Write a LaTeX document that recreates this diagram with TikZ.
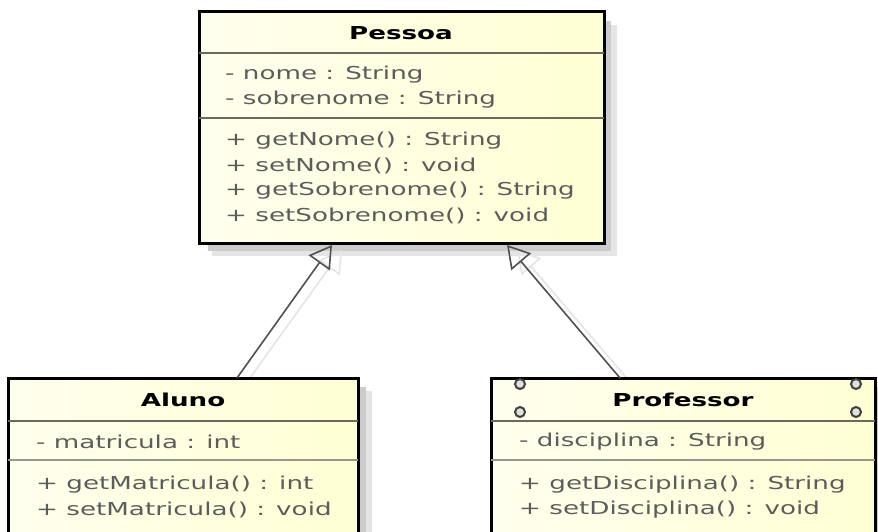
\documentclass[tikz,border=0pt]{standalone}
\usepackage{fontspec}
\setmainfont{DejaVu Sans}[FakeStretch=1.47]
\usetikzlibrary{arrows.meta,calc}
\definecolor{fillA}{RGB}{255,255,238}
\definecolor{fillB}{RGB}{255,255,212}
\definecolor{sepgray}{RGB}{105,105,92}
\definecolor{txtgray}{RGB}{92,92,92}
\definecolor{lnkgray}{RGB}{80,80,80}
\tikzset{
  classbox/.style={draw=black, line width=3pt, left color=fillA, right color=fillB,
    inner sep=0pt, outer sep=0pt, anchor=north west},
  shadowA/.style={fill=black!10, draw=none},
  shadowB/.style={fill=black!20, draw=none},
  sepline/.style={draw=sepgray, line width=2.5pt},
  ctitle/.style={font=\fontsize{17.8}{22}\selectfont\bfseries, text=black, inner sep=0pt},
  member/.style={font=\fontsize{17.8}{22}\selectfont, text=txtgray, anchor=west, inner sep=0pt},
  genlink/.style={draw=lnkgray, line width=1.6pt, -{Triangle[open, length=22pt, width=26pt, line width=1.6pt]}},
  genshadow/.style={draw=black!10, line width=1.6pt, -{Triangle[open, length=22pt, width=26pt, line width=1.6pt]}},
  corner/.style={circle, draw=black!75, fill=black!12, line width=2pt, minimum size=10pt, inner sep=0pt}
}
\begin{document}
\begin{tikzpicture}[x=1pt,y=-1pt]
\useasboundingbox (0,0) rectangle (878,532);
\fill[white] (0,0) rectangle (878,532);

% shadows
\fill[shadowA] (212,25) rectangle (617,256);
\fill[shadowB] (208,21) rectangle (611,251);
\fill[shadowA] (21,391) rectangle (372,545);
\fill[shadowB] (17,387) rectangle (366,545);
\fill[shadowA] (504,391) rectangle (889,545);
\fill[shadowB] (500,387) rectangle (883,545);

% connector shadows
\coordinate (aTs) at (247,382);
\coordinate (pLs) at (342,250);
\coordinate (prTs) at (630,382);
\coordinate (pRs) at (517,250);
\draw[genshadow] (aTs) -- (pLs);
\draw[genshadow] (prTs) -- (pRs);

% Pessoa
\node[classbox, minimum width=405pt, minimum height=231pt] (pessoa) at (199,12) {};
\draw[sepline] (199,53) -- (604,53);
\draw[sepline] (199,118) -- (604,118);
\node[ctitle] (pessoaT) at (401,33) {Pessoa};
\node[member] (p1) at (225,75) {- nome : String};
\node[member] (p2) at (225,100) {- sobrenome : String};
\node[member] (p3) at (225,141) {+ getNome() : String};
\node[member] (p4) at (225,166) {+ setNome() : void};
\node[member] (p5) at (225,191) {+ getSobrenome() : String};
\node[member] (p6) at (225,216) {+ setSobrenome() : void};

% Aluno
\node[classbox, minimum width=350pt, minimum height=170pt] (aluno) at (8,378) {};
\draw[sepline] (8,421) -- (358,421);
\draw[sepline, draw=sepgray!70] (8,460) -- (358,460);
\node[ctitle] (alunoT) at (183,400) {Aluno};
\node[member] (a1) at (36,442) {- matricula : int};
\node[member] (a2) at (36,485) {+ getMatricula() : int};
\node[member] (a3) at (36,510) {+ setMatricula() : void};

% Professor
\node[classbox, minimum width=384pt, minimum height=170pt] (prof) at (491,378) {};
\draw[sepline] (491,421) -- (875,421);
\draw[sepline, draw=sepgray!70] (491,460) -- (875,460);
\node[ctitle] (profT) at (683,400) {Professor};
\node[member] (r1) at (519,442) {- disciplina : String};
\node[member] (r2) at (519,485) {+ getDisciplina() : String};
\node[member] (r3) at (519,510) {+ setDisciplina() : void};
\node[corner] (c1) at (520,384) {};
\node[corner] (c2) at (520,412) {};
\node[corner] (c3) at (856,384) {};
\node[corner] (c4) at (856,412) {};

% generalizations
\coordinate (aT) at (237,378);
\coordinate (pL) at (332,245);
\coordinate (prT) at (620,378);
\coordinate (pR) at (507,245);
\draw[genlink] (aT) -- (pL);
\draw[genlink] (prT) -- (pR);
\end{tikzpicture}
\end{document}
